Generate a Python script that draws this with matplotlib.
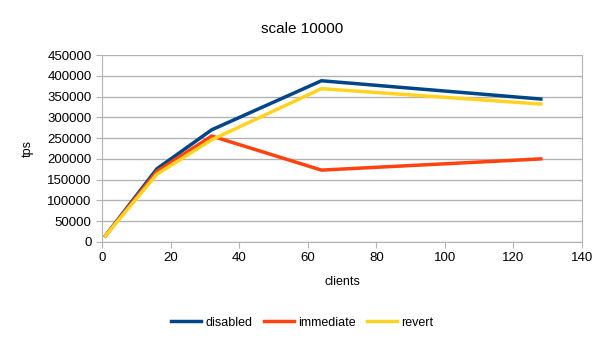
import matplotlib.pyplot as plt

plt.rcParams['font.family'] = ['Liberation Sans', 'DejaVu Sans']

clients = [1, 16, 32, 64, 128]
disabled = [15000, 176000, 270000, 388000, 344000]
immediate = [15000, 170000, 255000, 173000, 200000]
revert = [15000, 163000, 246000, 369000, 332000]

fig = plt.figure(figsize=(6.05, 3.4), dpi=100)
ax = fig.add_axes([102 / 605, 1 - 242 / 340, 480 / 605, 187 / 340])

ax.plot(clients, disabled, color='#004586', lw=2.5, label='disabled')
ax.plot(clients, immediate, color='#ff420e', lw=2.5, label='immediate')
ax.plot(clients, revert, color='#ffd320', lw=2.5, label='revert')

ax.set_xlim(0, 140)
ax.set_ylim(0, 450000)
ax.set_xticks(range(0, 141, 20))
ax.set_yticks(range(0, 450001, 50000))
ax.grid(axis='y', color='#b3b3b3', lw=1)
ax.set_axisbelow(True)
ax.spines['top'].set_visible(False)
for side in ['left', 'right', 'bottom']:
    ax.spines[side].set_color('#b3b3b3')
ax.tick_params(colors='#b3b3b3', labelcolor='black', labelsize=9.5, length=4)

ax.set_xlabel('clients', fontsize=9, labelpad=8)
ax.set_ylabel('tps', fontsize=9, labelpad=10)
fig.suptitle('scale 10000', fontsize=11, y=0.935)

fig.legend(loc='lower center', ncol=3, frameon=False, fontsize=9,
           bbox_to_anchor=(0.5, 0.0), handlelength=2.4, handletextpad=0.35,
           columnspacing=0.9)

fig.savefig('out.png', dpi=100)
